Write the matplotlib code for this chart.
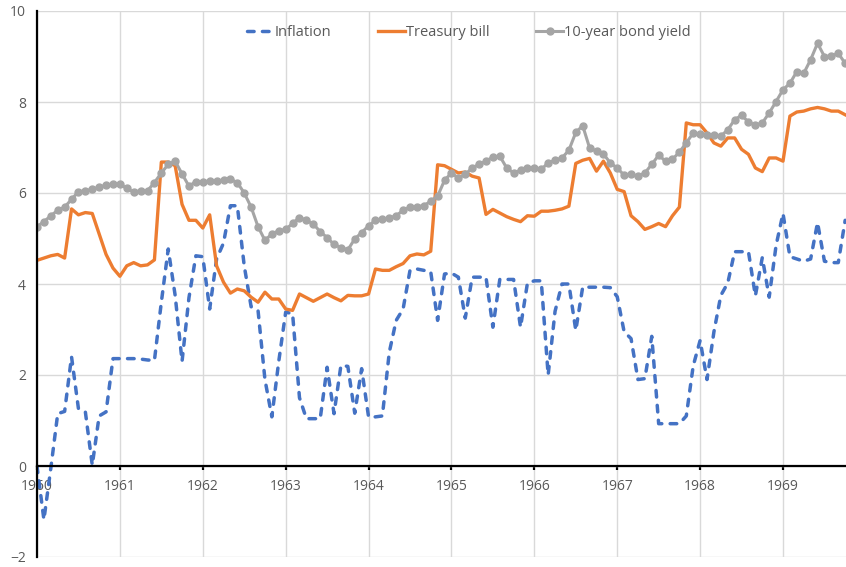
import matplotlib
matplotlib.use("Agg")
import matplotlib.pyplot as plt
import numpy as np

plt.rcParams['font.family'] = ['Open Sans', 'DejaVu Sans']

# monthly data, Jan 1960 - Oct 1969
start_year = 1960
inflation = [
    0.0, -1.18, -0.05, 1.15, 1.2, 2.4, 1.26, 1.19, 0.02, 1.1, 1.19, 2.36,
    2.36, 2.36, 2.36, 2.35, 2.33, 2.32, 3.6, 4.77, 3.75, 2.3, 3.7, 4.62,
    4.6, 3.45, 4.55, 4.9, 5.72, 5.72, 4.4, 3.5, 3.42, 1.9, 1.08, 2.3,
    3.38, 3.35, 1.5, 1.04, 1.04, 1.04, 2.17, 1.15, 2.21, 2.19, 1.16, 2.14,
    1.08, 1.08, 1.1, 2.5, 3.2, 3.45, 4.3, 4.33, 4.3, 4.27, 3.2, 4.22,
    4.24, 4.15, 3.25, 4.15, 4.15, 4.15, 3.05, 4.1, 4.1, 4.1, 3.05, 4.02,
    4.07, 4.07, 2.0, 3.4, 4.0, 4.0, 2.98, 3.93, 3.93, 3.93, 3.93, 3.92,
    3.72, 2.95, 2.8, 1.9, 1.92, 2.85, 0.93, 0.93, 0.93, 0.93, 1.1, 2.2,
    2.76, 1.9, 2.95, 3.75, 4.02, 4.71, 4.71, 4.71, 3.74, 4.58, 3.71, 4.85,
    5.55, 4.6, 4.55, 4.5, 4.55, 5.35, 4.5, 4.47, 4.47, 5.4,
]
treasury_bill = [
    4.52, 4.57, 4.62, 4.65, 4.57, 5.65, 5.52, 5.57, 5.55, 5.1, 4.65, 4.35,
    4.17, 4.4, 4.47, 4.4, 4.42, 4.53, 6.68, 6.68, 6.6, 5.75, 5.4, 5.4,
    5.23, 5.52, 4.4, 4.04, 3.8, 3.89, 3.85, 3.71, 3.6, 3.82, 3.67, 3.67,
    3.45, 3.42, 3.78, 3.7, 3.62, 3.7, 3.78, 3.7, 3.63, 3.75, 3.74, 3.74,
    3.78, 4.33, 4.3, 4.3, 4.38, 4.45, 4.62, 4.66, 4.64, 4.72, 6.62, 6.6,
    6.52, 6.44, 6.46, 6.37, 6.33, 5.53, 5.64, 5.56, 5.48, 5.42, 5.37, 5.5,
    5.49, 5.6, 5.6, 5.62, 5.65, 5.71, 6.65, 6.72, 6.76, 6.48, 6.7, 6.44,
    6.08, 6.03, 5.5, 5.37, 5.2, 5.26, 5.33, 5.26, 5.5, 5.69, 7.54, 7.5,
    7.5, 7.32, 7.1, 7.03, 7.21, 7.21, 6.96, 6.85, 6.55, 6.47, 6.77, 6.77,
    6.7, 7.69, 7.78, 7.8, 7.85, 7.88, 7.85, 7.8, 7.8, 7.72,
]
bond_yield = [
    5.26, 5.37, 5.5, 5.62, 5.69, 5.86, 6.03, 6.05, 6.08, 6.13, 6.17, 6.19,
    6.2, 6.1, 6.02, 6.05, 6.05, 6.23, 6.44, 6.63, 6.7, 6.42, 6.15, 6.25,
    6.25, 6.26, 6.27, 6.28, 6.3, 6.23, 6.0, 5.69, 5.26, 4.96, 5.1, 5.17,
    5.2, 5.33, 5.46, 5.4, 5.32, 5.15, 5.02, 4.87, 4.8, 4.75, 4.99, 5.13,
    5.28, 5.4, 5.43, 5.45, 5.5, 5.62, 5.69, 5.7, 5.72, 5.82, 5.93, 6.28,
    6.44, 6.33, 6.41, 6.55, 6.63, 6.7, 6.79, 6.81, 6.55, 6.44, 6.5, 6.55,
    6.55, 6.52, 6.66, 6.72, 6.77, 6.94, 7.33, 7.48, 6.99, 6.92, 6.86, 6.66,
    6.55, 6.39, 6.41, 6.37, 6.44, 6.63, 6.83, 6.7, 6.74, 6.9, 7.1, 7.32,
    7.29, 7.27, 7.28, 7.25, 7.39, 7.61, 7.71, 7.56, 7.49, 7.54, 7.76, 8.01,
    8.27, 8.41, 8.67, 8.63, 8.93, 9.29, 9.0, 9.01, 9.07, 8.85,
]
year_ticks = list(range(1960, 1970))
y_ticks = [-2, 0, 2, 4, 6, 8, 10]

dates = start_year + np.arange(len(bond_yield)) / 12.0

fig = plt.figure(figsize=(8.46, 5.67), dpi=100)
ax = fig.add_axes([37/846, 10/567, 809/846, 546/567])

blue, = ax.plot(dates, inflation, color='#4472C4', lw=2.5, label='Inflation',
                dash_capstyle='round')
blue.set_dashes([1.9, 2.4])
ax.plot(dates, treasury_bill, color='#ED7D31', lw=2.4, label='Treasury bill')
ax.plot(dates, bond_yield, color='#A5A5A5', lw=2.2, marker='o', markersize=5,
        label='10-year bond yield')

ax.set_xlim(1960, 1969.76)
ax.set_ylim(-2, 10)
ax.set_xticks(year_ticks)
ax.set_yticks(y_ticks)
ax.set_xticklabels([str(y) for y in year_ticks])

ax.grid(True, color='#D9D9D9', lw=1.0)
ax.set_axisbelow(True)

for s in ['top', 'right']:
    ax.spines[s].set_visible(False)
ax.spines['bottom'].set_position(('data', 0))
ax.spines['bottom'].set_linewidth(1.6)
ax.spines['left'].set_linewidth(1.6)
ax.spines['bottom'].set_color('black')
ax.spines['left'].set_color('black')

ax.tick_params(axis='x', direction='out', length=3, width=1.6, color='black',
               pad=6, labelsize=10, labelcolor='#595959')
ax.tick_params(axis='y', length=0, pad=8, labelsize=10, labelcolor='#595959')

leg = ax.legend(loc='center', bbox_to_anchor=(469/846, 1 - 33/567),
                bbox_transform=fig.transFigure, ncol=3, frameon=False,
                handlelength=1.85, handletextpad=0.05, columnspacing=3.2,
                fontsize=10.5)
for t in leg.get_texts():
    t.set_color('#595959')

fig.savefig('out.png', dpi=100)
